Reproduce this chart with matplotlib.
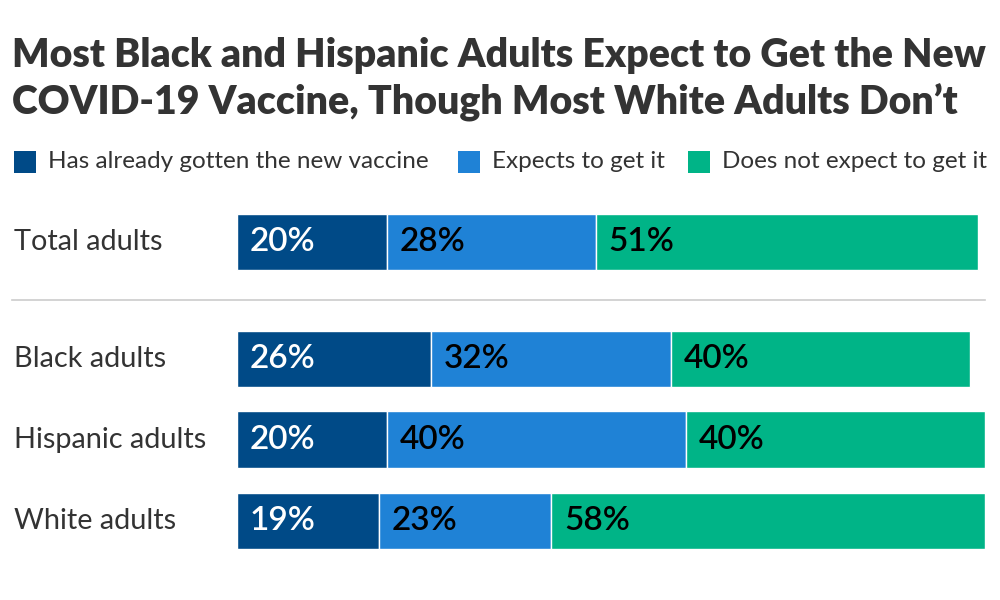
import matplotlib
matplotlib.use("Agg")
import matplotlib.pyplot as plt
from matplotlib.patches import Rectangle

categories = ["Total adults", "Black adults", "Hispanic adults", "White adults"]
series_names = ["Has already gotten the new vaccine", "Expects to get it", "Does not expect to get it"]
already = [20, 26, 20, 19]
expects = [28, 32, 40, 23]
not_expect = [51, 40, 40, 58]
colors = ["#004A87", "#1F82D6", "#00B487"]
text_colors = ["white", "black", "black"]

plt.rcParams['font.family'] = ['Lato', 'DejaVu Sans']

W, H = 1000, 600
fig = plt.figure(figsize=(10, 6), dpi=100)

def fx(px):
    return px / W

def fy(py):
    return 1 - py / H

# Title
fig.text(fx(12), fy(55), "Most Black and Hispanic Adults Expect to Get the New",
         fontsize=28.3, fontweight='heavy', color='#333333', va='center', ha='left')
fig.text(fx(12), fy(103), "COVID-19 Vaccine, Though Most White Adults Don\u2019t",
         fontsize=28.3, fontweight='heavy', color='#333333', va='center', ha='left')

# Legend
leg_x = [14, 458, 688]
for x0, name, c in zip(leg_x, series_names, colors):
    fig.patches.append(Rectangle((fx(x0), fy(173)), fx(22), 22 / H, transform=fig.transFigure,
                                 facecolor=c, edgecolor='none'))
    fig.text(fx(x0 + 34), fy(162), name, fontsize=17.5, color='#333333', va='center', ha='left')

# Axes: pixel y from 200 to 560
ax = fig.add_axes([fx(237), fy(560), fx(985) - fx(237), 360 / H])
ax.set_xlim(0, 100)
unit = 80.3
ypos = [0, 1.46, 2.46, 3.47]
ax.set_ylim((560 - 242) / unit, (200 - 242) / unit)
ax.axis('off')

left = [0] * len(categories)
for vals, c, tc in zip([already, expects, not_expect], colors, text_colors):
    ax.barh(ypos, vals, left=left, height=0.7, color=c, edgecolor='white', linewidth=1)
    for y, l, v in zip(ypos, left, vals):
        ax.text(l + 1.7, y, f"{v}%", color=tc, fontsize=24, va='center', ha='left',
                fontweight='semibold')
    left = [a + b for a, b in zip(left, vals)]

for y, cat in zip(ypos, categories):
    py = 242 + y * unit
    fig.text(fx(14), fy(py), cat, fontsize=20.8, color='#333333', va='center', ha='left')

# Separator line
fig.add_artist(plt.Line2D([fx(12), fx(985)], [fy(300), fy(300)], transform=fig.transFigure,
                          color='#cccccc', linewidth=1.2))

fig.savefig("out.png", dpi=100, facecolor='white')
